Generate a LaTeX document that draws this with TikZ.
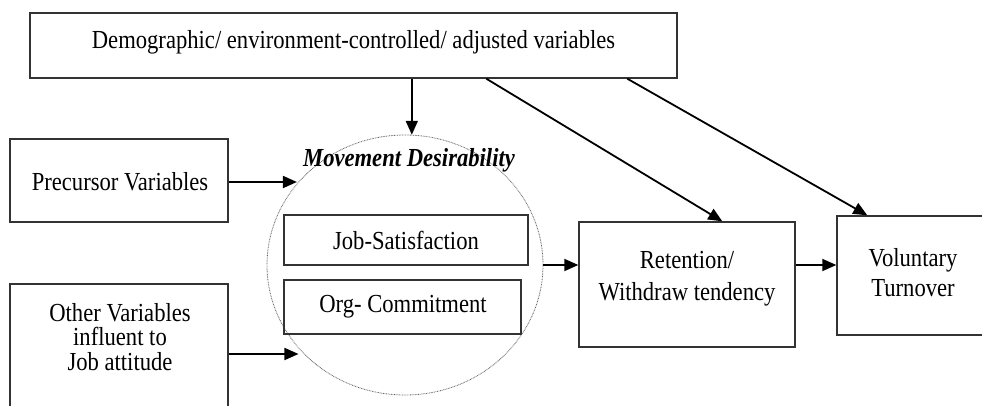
\documentclass[tikz,border=0pt]{standalone}
\usepackage{fontspec}
\setmainfont[FakeStretch=0.87]{Liberation Serif}
\usetikzlibrary{arrows.meta,shapes.geometric}
\tikzset{
  box/.style={draw=black!80, line width=1.4pt, rectangle, inner sep=0pt, anchor=center},
  lbl/.style={font=\fontsize{26}{24}\selectfont, align=center, inner sep=0pt, anchor=center},
  arr/.style={line width=1.8pt, -{Triangle[length=14pt,width=12pt]}},
  ln/.style={line width=1.8pt}
}
\begin{document}
\begin{tikzpicture}[x=1pt,y=-1pt]
\useasboundingbox (0,0) rectangle (982,406);
\clip (0,0) rectangle (982,406);
\fill[white] (0,0) rectangle (982,406);

% top box
\node[box, minimum width=647pt, minimum height=65pt] (dem) at (353.5,45.5) {};
\node[lbl] (demT) at (353.5,42) {Demographic/ environment-controlled/ adjusted variables};

% precursor
\node[box, minimum width=218pt, minimum height=83pt] (pre) at (119,180.5) {};
\node[lbl] (preT) at (120,182) {Precursor Variables};

% other
\node[box, minimum width=218pt, minimum height=140pt] (oth) at (119,354) {};
\node[lbl, font=\fontsize{26}{24.5}\selectfont] (othT) at (120,337) {Other Variables\\influent to\\Job attitude};

% movement desirability ellipse
\node[draw=black!60, line width=0.8pt, dash pattern=on 0.8pt off 0.8pt, ellipse,
      minimum width=276pt, minimum height=260pt, inner sep=0pt] (md) at (405,265) {};
\node[lbl, font=\fontsize{26}{28}\selectfont\bfseries\itshape] (mdT) at (409,160) {Movement Desirability};

\node[box, minimum width=244pt, minimum height=50pt] (js) at (406,240) {};
\node[lbl] (jsT) at (406,240) {Job-Satisfaction};
\node[box, minimum width=237pt, minimum height=54pt] (oc) at (402.5,307) {};
\node[lbl] (ocT) at (403,307) {Org- Commitment};

% retention
\node[box, minimum width=216pt, minimum height=125pt] (ret) at (687,284.5) {};
\node[lbl, font=\fontsize{26}{32}\selectfont] (retT) at (687,279) {Retention/\\Withdraw tendency};

% voluntary
\node[box, minimum width=153pt, minimum height=119pt] (vol) at (913.5,275.5) {};
\node[lbl, font=\fontsize{26}{30}\selectfont] (volT) at (913,273) {Voluntary\\Turnover};

% connectors
\draw[arr] (dem.south -| md.87) -- (md.87);
\draw[arr] ([xshift=457pt]dem.south west) -- ([xshift=144pt]ret.north west);
\draw[arr] ([xshift=598pt]dem.south west) -- ([xshift=31pt]vol.north west);
\draw[arr] (pre.east |- 0,182) -- (md.143 |- 0,182);
\draw[arr] (oth.east |- 0,354) -- (md.218 |- 0,354);
\draw[arr] (md.east) -- (md.east -| ret.west);
\draw[arr] (ret.east |- md.east) -- (vol.west |- md.east);
\end{tikzpicture}
\end{document}
